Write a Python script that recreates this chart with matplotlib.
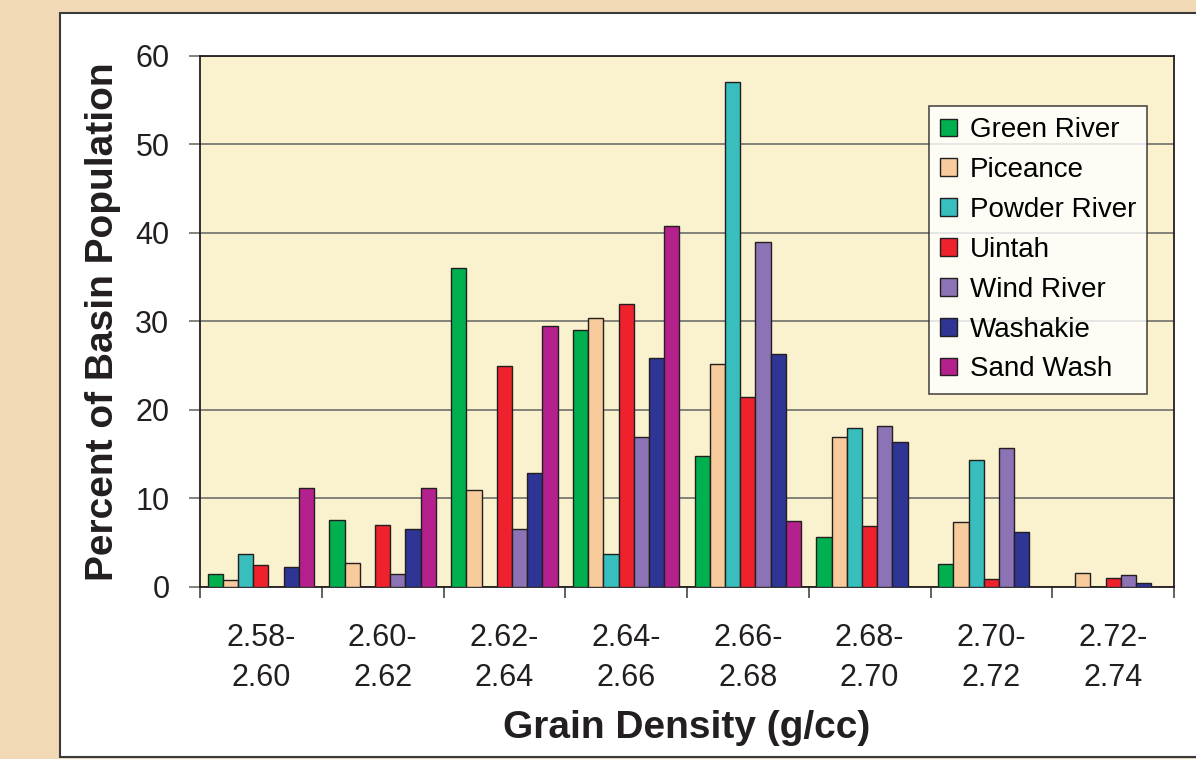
import matplotlib
matplotlib.use("Agg")
import matplotlib.pyplot as plt
import numpy as np
from matplotlib.patches import Rectangle

plt.rcParams['font.family'] = ['Liberation Sans', 'DejaVu Sans']

categories = ["2.58-\n2.60", "2.60-\n2.62", "2.62-\n2.64", "2.64-\n2.66",
              "2.66-\n2.68", "2.68-\n2.70", "2.70-\n2.72", "2.72-\n2.74"]
series_names = ["Green River", "Piceance", "Powder River", "Uintah",
                "Wind River", "Washakie", "Sand Wash"]
green_river  = [1.5, 7.6, 36.0, 29.0, 14.8, 5.7, 2.6, 0.0]
piceance     = [0.8, 2.7, 10.9, 30.4, 25.2, 16.9, 7.3, 1.6]
powder_river = [3.7, 0.0, 0.0, 3.7, 57.0, 17.9, 14.3, 0.0]
uintah       = [2.5, 7.0, 25.0, 32.0, 21.5, 6.9, 0.9, 1.0]
wind_river   = [0.0, 1.5, 6.6, 16.9, 39.0, 18.2, 15.7, 1.4]
washakie     = [2.3, 6.6, 12.9, 25.8, 26.3, 16.4, 6.2, 0.5]
sand_wash    = [11.2, 11.2, 29.5, 40.7, 7.4, 0.0, 0.0, 0.0]
series = [green_river, piceance, powder_river, uintah, wind_river, washakie, sand_wash]
colors = ["#00B04F", "#F7CB9B", "#38BEBC", "#EE212D", "#8B73B5", "#2E3594", "#B5218C"]

W, H = 1196, 759
fig = plt.figure(figsize=(W/100, H/100), dpi=100)
fig.patch.set_facecolor("#F2D9B6")
# white panel
fig.add_artist(Rectangle((60/W, 1 - 757/H), (W + 10 - 60)/W, (757 - 13)/H,
                         transform=fig.transFigure, facecolor="white",
                         edgecolor="#3a3a3a", linewidth=1.5, zorder=0))

ax = fig.add_axes([200/W, 1 - 587/H, (1174 - 200)/W, (587 - 55.5)/H])
ax.set_facecolor("#FAF1CF")

n = len(series)
bw = 0.125
x = np.arange(len(categories))
for i, (vals, name, col) in enumerate(zip(series, series_names, colors)):
    offs = (i - (n - 1) / 2) * bw
    ax.bar(x + 0.5 + offs, vals, width=bw, color=col, edgecolor="#231F20",
           linewidth=1.0, label=name, zorder=3)

ax.set_xlim(0, len(categories))
ax.set_ylim(0, 60)
ax.set_yticks(np.arange(0, 61, 10))
ax.yaxis.grid(True, color="#7a7a72", linewidth=1.3, zorder=1)
ax.set_axisbelow(True)

ax.set_xticks(np.arange(0, len(categories) + 1))
ax.set_xticklabels([])
ax.set_xticks(x + 0.5, minor=True)
ax.set_xticklabels(categories, minor=True, fontsize=22, color="#231F20",
                   linespacing=1.45)
ax.tick_params(axis='x', which='major', length=8, width=1.3, color="#555555",
               direction='out')
ax.tick_params(axis='x', which='minor', length=0, pad=26)
ax.tick_params(axis='y', length=8, width=1.3, color="#7a7a72", pad=14,
               labelsize=22, labelcolor="#231F20")

for s in ax.spines.values():
    s.set_color("#231F20")
    s.set_linewidth(1.3)

ax.set_xlabel("Grain Density (g/cc)", fontsize=28, fontweight="bold",
              color="#231F20", labelpad=12)
ax.set_ylabel("Percent of Basin Population", fontsize=28, fontweight="bold",
              color="#231F20", labelpad=10)

leg = ax.legend(loc="upper right", bbox_to_anchor=(1147/W, 1 - 106/H),
                bbox_transform=fig.transFigure, fontsize=20, frameon=True,
                fancybox=False, edgecolor="#231F20", borderpad=0.4,
                handlelength=0.6, handleheight=0.6, handletextpad=0.45,
                labelspacing=0.5, borderaxespad=0)
leg.get_frame().set_linewidth(1.2)
leg.get_frame().set_facecolor("white")

fig.savefig("out.png", dpi=100, facecolor=fig.get_facecolor())
